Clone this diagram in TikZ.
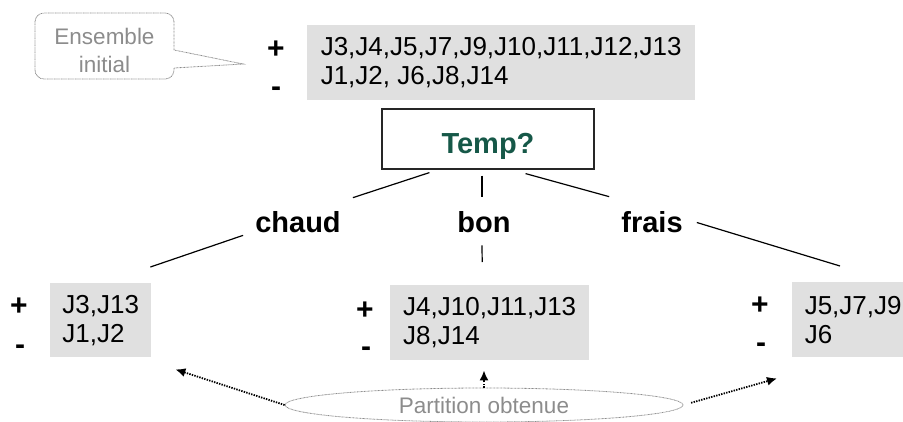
\documentclass[tikz,border=0pt]{standalone}
\usepackage{fontspec}
\setmainfont{Liberation Sans}
\usetikzlibrary{shapes.geometric,arrows.meta}
\definecolor{fondliste}{RGB}{224,224,224}
\definecolor{textegris}{RGB}{140,140,140}
\definecolor{vertfonce}{RGB}{22,88,72}
\begin{document}
\begin{tikzpicture}[x=1pt,y=-1pt,
		liste/.style={fill=fondliste, anchor=north west, align=left, inner sep=0pt, font=\fontsize{26}{29}\selectfont},
		signe/.style={font=\bfseries\fontsize{30}{30}\selectfont, inner sep=0pt},
		etiquette/.style={font=\bfseries\fontsize{29}{29}\selectfont, inner sep=0pt},
		branche/.style={black, line width=1.2pt},
		fleche/.style={black, line width=1.8pt, dash pattern=on 1.4pt off 1.2pt, -{Latex[length=10pt,width=9pt]}},
		note/.style={text=textegris, font=\fontsize{22.5}{28}\selectfont, align=center, inner sep=0pt}]
		\useasboundingbox (0,0) rectangle (903,421);
		% bulle
		\coordinate (pointe) at (243,64);
		\draw[textegris, line width=0.8pt, dash pattern=on 0.8pt off 0.6pt, rounded corners=9pt] (174,50) -- (174,13) -- (35,13) -- (35,79) -- (174,79) [sharp corners] -- (174,68) -- (pointe) -- cycle;
		\node[note] (ensemble) at (104.5,50) {Ensemble\\initial};
		\node[liste, minimum width=388, minimum height=75] (racine) at (307,25) {J3,J4,J5,J7,J9,J10,J11,J12,J13\\J1,J2, J6,J8,J14};
		\node[signe] (plus0) at (276,50) {+};
		\node[signe] (moins0) at (276,92) {-};
		\node[draw=black!85, line width=1.2pt, minimum width=212, minimum height=60, inner sep=0pt, text height=29pt, text depth=1pt, text=vertfonce, font=\bfseries\fontsize{29}{29}\selectfont] (temp) at (488,139) {Temp?};
		\node[etiquette] (chaud) at (298,222.5) {chaud};
		\node[etiquette] (bon) at (484,222.5) {bon};
		\node[etiquette] (frais) at (652,222.5) {frais};
		\node[liste, minimum width=101, minimum height=74] (gauche) at (50,283) {J3,J13\\J1,J2};
		\node[liste, minimum width=199, minimum height=75] (milieu) at (390,285) {J4,J10,J11,J13\\J8,J14};
		\node[liste, minimum width=122, minimum height=75] (droite) at (792,282) {J5,J7,J9\\J6};
		\node[signe] (plus1) at (19,307) {+};
		\node[signe] (moins1) at (20,350) {-};
		\node[signe] (plus2) at (365,311) {+};
		\node[signe] (moins2) at (366,352) {-};
		\node[signe] (plus3) at (760,306) {+};
		\node[signe] (moins3) at (761,348) {-};
		% branches
		\draw[branche] ([xshift=48pt,yshift=-3pt]temp.south west) -- ([xshift=12pt,yshift=14pt]chaud.north east);
		\draw[branche] ([xshift=-12pt,yshift=-2pt]chaud.south west) -- ([xshift=-1pt,yshift=16pt]gauche.north east);
		\draw[branche] ([xshift=-6pt,yshift=-6pt]temp.south) -- ([xshift=-2pt,yshift=15pt]bon.north);
		\draw[branche] ([xshift=-2pt,yshift=-12pt]bon.south) -- ([xshift=-7.5pt,yshift=23pt]milieu.north);
		\draw[branche] ([xshift=-69pt,yshift=-4pt]temp.south east) -- ([xshift=-12pt,yshift=15pt]frais.north west);
		\draw[branche] ([xshift=14pt]frais.east) -- ([xshift=48pt,yshift=16pt]droite.north west);
		% partition
		\node[ellipse, draw=textegris, line width=0.8pt, dash pattern=on 0.8pt off 0.6pt, minimum width=398, minimum height=34, inner sep=0pt, text=textegris, font=\fontsize{22.5}{22.5}\selectfont] (partition) at (484,405) {Partition obtenue};
		\draw[fleche] (partition.west) -- ([xshift=24pt,yshift=-12pt]gauche.south east);
		\draw[fleche, shorten >=10pt] (partition.north) -- (partition.north |- milieu.south);
		\draw[fleche, shorten <=8pt] (partition.east) -- ([xshift=-15pt,yshift=-21pt]droite.south west);
\end{tikzpicture}
\end{document}
